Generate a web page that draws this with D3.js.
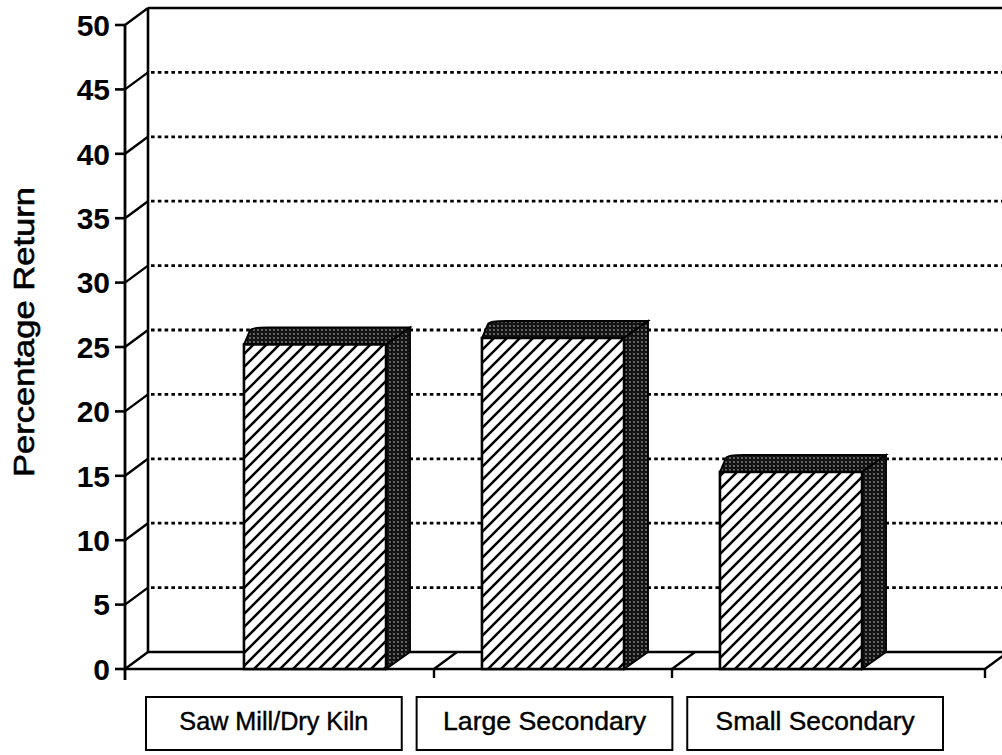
<!DOCTYPE html>
<html>
<head>
<meta charset="utf-8">
<script src="https://cdn.jsdelivr.net/npm/d3@7"></script>
<style>
  body { margin: 0; background: #fff; }
  svg { display: block; font-family: "Liberation Sans", Arial, sans-serif; }
</style>
</head>
<body>
<div id="chart"></div>
<script>
// Chart data
const categories = ["Saw Mill/Dry Kiln", "Large Secondary", "Small Secondary"];
const values = [25.2, 25.7, 15.3];
const yTicks = [0, 5, 10, 15, 20, 25, 30, 35, 40, 45, 50];

const width = 1002, height = 755;
const depthX = 23, depthY = -17;   // 3D offset of the back wall
const floorEnd = 985;

const svg = d3.select('#chart').append('svg')
    .attr('width', width)
    .attr('height', height);

const defs = svg.append('defs');

// diagonal hatch for bar fronts
const hatch = defs.append('pattern')
    .attr('id', 'hatch')
    .attr('patternUnits', 'userSpaceOnUse')
    .attr('width', 13).attr('height', 13);
hatch.append('rect').attr('width', 13).attr('height', 13).attr('fill', '#fff');
hatch.append('path')
    .attr('d', 'M0,13 L13,0 M-3,3 L3,-3 M10,16 L16,10')
    .attr('stroke', '#000').attr('stroke-width', 2.5);

// dark stipple for bar sides and tops
const stipple = defs.append('pattern')
    .attr('id', 'stipple')
    .attr('patternUnits', 'userSpaceOnUse')
    .attr('width', 4).attr('height', 4);
stipple.append('rect').attr('width', 4).attr('height', 4).attr('fill', '#111');
stipple.append('circle').attr('cx', 2).attr('cy', 2).attr('r', 0.9).attr('fill', '#888');
stipple.append('circle').attr('cx', 0).attr('cy', 0).attr('r', 0.6).attr('fill', '#555');

// Scales
const y = d3.scaleLinear().domain([0, 50]).range([669, 25]);
const x = d3.scaleBand().domain(categories).range([196, 910])
    .paddingInner(0.403).paddingOuter(0.2015);
const boxX = d3.scaleBand().domain(categories).range([146, 943]).paddingInner(0.055);

const axisX = 125;
const backX = axisX + depthX;

// Back wall: top line and left edge
svg.append('line')
    .attr('x1', backX).attr('x2', width)
    .attr('y1', y(50) + depthY).attr('y2', y(50) + depthY)
    .attr('stroke', '#000').attr('stroke-width', 2.6);
svg.append('line')
    .attr('x1', backX).attr('x2', backX)
    .attr('y1', y(50) + depthY).attr('y2', y(0) + depthY)
    .attr('stroke', '#000').attr('stroke-width', 2.6);

// Dotted gridlines on back wall
svg.selectAll('.grid')
    .data(yTicks.filter(d => d > 0 && d < 50))
    .enter().append('line')
    .attr('class', 'grid')
    .attr('x1', backX + 3).attr('x2', width)
    .attr('y1', d => y(d) + depthY).attr('y2', d => y(d) + depthY)
    .attr('stroke', '#000').attr('stroke-width', 2.8)
    .attr('stroke-dasharray', '3.6,3.2');

// Side wall connectors from front axis to back wall
svg.selectAll('.conn')
    .data(yTicks)
    .enter().append('line')
    .attr('class', 'conn')
    .attr('x1', axisX).attr('x2', backX)
    .attr('y1', d => y(d)).attr('y2', d => y(d) + depthY)
    .attr('stroke', '#000').attr('stroke-width', 2.4);

// Floor: back edge, front edge
svg.append('line')
    .attr('x1', backX).attr('x2', width)
    .attr('y1', y(0) + depthY).attr('y2', y(0) + depthY)
    .attr('stroke', '#000').attr('stroke-width', 2.6);
svg.append('line')
    .attr('x1', axisX).attr('x2', floorEnd)
    .attr('y1', y(0)).attr('y2', y(0))
    .attr('stroke', '#000').attr('stroke-width', 2.6);

// Category boundary ticks on the floor
const step = x.step();
const boundaries = categories.slice(1).map(c => x(c) - (step - x.bandwidth()) / 2).concat([floorEnd]);
boundaries.forEach(bx => {
    svg.append('line')
        .attr('x1', bx).attr('x2', bx + depthX)
        .attr('y1', y(0)).attr('y2', y(0) + depthY)
        .attr('stroke', '#000').attr('stroke-width', 2.4);
    svg.append('line')
        .attr('x1', bx).attr('x2', bx)
        .attr('y1', y(0)).attr('y2', y(0) + 9)
        .attr('stroke', '#000').attr('stroke-width', 2.4);
});

// Bars
const bars = svg.selectAll('.bar')
    .data(categories.map((c, i) => ({ cat: c, value: values[i] })))
    .enter().append('g')
    .attr('class', 'bar');

const bw = x.bandwidth();
const barDX = 24, barDY = -17;

// top face
bars.append('path')
    .attr('d', d => {
        const x0 = x(d.cat), x1 = x0 + bw, yt = y(d.value);
        return `M${x0},${yt} L${x0 + 6},${yt + barDY + 3} Q${x0 + 8},${yt + barDY} ${x0 + barDX},${yt + barDY} L${x1 + barDX},${yt + barDY} L${x1},${yt} Z`;
    })
    .attr('fill', 'url(#stipple)')
    .attr('stroke', '#000').attr('stroke-width', 1.8);

// side face
bars.append('path')
    .attr('d', d => {
        const x1 = x(d.cat) + bw, yt = y(d.value), yb = y(0);
        return `M${x1},${yt} L${x1 + barDX},${yt + barDY} L${x1 + barDX},${yb + barDY} L${x1},${yb} Z`;
    })
    .attr('fill', 'url(#stipple)')
    .attr('stroke', '#000').attr('stroke-width', 1.8);

// front face
bars.append('rect')
    .attr('x', d => x(d.cat))
    .attr('y', d => y(d.value))
    .attr('width', bw)
    .attr('height', d => y(0) - y(d.value))
    .attr('fill', 'url(#hatch)')
    .attr('stroke', '#000').attr('stroke-width', 2.6);

// Front y axis
svg.append('line')
    .attr('x1', axisX).attr('x2', axisX)
    .attr('y1', y(50)).attr('y2', y(0) + 11)
    .attr('stroke', '#000').attr('stroke-width', 2.8);

svg.selectAll('.ytick')
    .data(yTicks)
    .enter().append('line')
    .attr('class', 'ytick')
    .attr('x1', axisX - 10).attr('x2', axisX)
    .attr('y1', d => y(d)).attr('y2', d => y(d))
    .attr('stroke', '#000').attr('stroke-width', 2.6);

svg.selectAll('.ylabel')
    .data(yTicks)
    .enter().append('text')
    .attr('class', 'ylabel')
    .attr('x', axisX - 15)
    .attr('y', d => y(d))
    .attr('dy', '0.36em')
    .attr('text-anchor', 'end')
    .attr('font-size', 30)
    .attr('font-weight', 'bold')
    .text(d => d);

// Y axis title
svg.append('text')
    .attr('transform', 'translate(34,332) rotate(-90)')
    .attr('text-anchor', 'middle')
    .attr('font-size', 29)
    .attr('textLength', 290)
    .attr('lengthAdjust', 'spacingAndGlyphs')
    .attr('stroke', '#000').attr('stroke-width', 0.6)
    .text('Percentage Return');

// Category label boxes
const labelW = [189, 203, 199];
const boxes = svg.selectAll('.catbox')
    .data(categories)
    .enter().append('g')
    .attr('class', 'catbox');

boxes.append('rect')
    .attr('x', d => boxX(d))
    .attr('y', 697)
    .attr('width', boxX.bandwidth())
    .attr('height', 53)
    .attr('fill', '#fff')
    .attr('stroke', '#000').attr('stroke-width', 2);

boxes.append('text')
    .attr('x', d => boxX(d) + boxX.bandwidth() / 2)
    .attr('y', 730)
    .attr('text-anchor', 'middle')
    .attr('font-size', 25)
    .attr('textLength', (d, i) => labelW[i])
    .attr('lengthAdjust', 'spacingAndGlyphs')
    .attr('stroke', '#000').attr('stroke-width', 0.4)
    .text(d => d);
</script>
</body>
</html>
